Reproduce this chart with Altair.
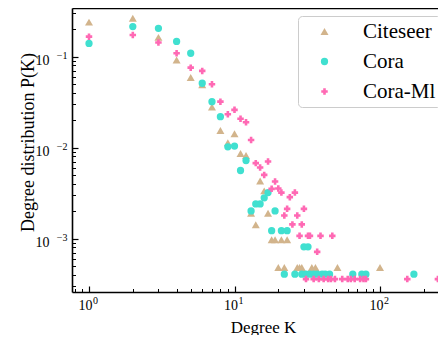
import altair as alt
import pandas as pd

# ---------------- data ----------------
series_names = ["Citeseer", "Cora", "Cora-Ml"]

citeseer_k = [1, 2, 3, 4, 5, 6, 7, 8, 9, 10, 11, 12, 13, 14, 15, 16, 17, 18, 19, 20,
              21, 22, 23, 27, 28, 29, 34, 36, 51, 100]
citeseer_p = [0.24, 0.264, 0.163, 0.092, 0.059, 0.049, 0.028, 0.0154, 0.0113, 0.0142,
              0.0086, 0.0082, 0.0019, 0.00142, 0.0043, 0.00334, 0.0019, 0.00097, 0.00097, 0.00048,
              0.00097, 0.00048, 0.00097, 0.00048, 0.00048, 0.00048, 0.00048, 0.00048, 0.00048, 0.00048]

cora_k = [1, 2, 3, 4, 5, 6, 7, 8, 9, 10, 11, 12, 13, 14, 15, 16, 17, 18, 19, 21,
          22, 23, 26, 29, 30, 31, 32, 33, 35, 37, 40, 42, 45, 65, 75, 80, 171]
cora_p = [0.14, 0.214, 0.205, 0.147, 0.109, 0.051, 0.032, 0.0219, 0.0102, 0.0104,
          0.0056, 0.0072, 0.00201, 0.0024, 0.0024, 0.0028, 0.0032, 0.00122, 0.00201, 0.00122,
          0.000406, 0.00122, 0.000406, 0.000406, 0.00081, 0.000406, 0.00081, 0.000406, 0.000406, 0.000406,
          0.000406, 0.000406, 0.000406, 0.000406, 0.000406, 0.000406, 0.000406]

coraml_k = [1, 2, 3, 4, 5, 6, 7, 8, 9, 10, 11, 12, 13, 14, 15, 16, 17, 18, 19, 20,
            21, 22, 23, 24, 25, 26, 27, 28, 29, 30, 31, 32, 33, 35, 37, 38, 39, 41, 44, 46,
            47, 49, 55, 60, 63, 67, 73, 77, 80, 154, 250]
coraml_p = [0.166, 0.173, 0.143, 0.109, 0.0757, 0.0697, 0.0497, 0.032, 0.0233, 0.026,
            0.0208, 0.019, 0.0121, 0.00675, 0.00603, 0.00501, 0.00702, 0.00352, 0.00423, 0.00355,
            0.0032, 0.00179, 0.00212, 0.00285, 0.00143, 0.0032, 0.00179, 0.00107, 0.00143, 0.00212,
            0.000358, 0.00107, 0.00107, 0.000358, 0.000714, 0.000358, 0.00107, 0.000358, 0.000358, 0.000358,
            0.00107, 0.000358, 0.000358, 0.000358, 0.000358, 0.000358, 0.000358, 0.000358, 0.000358, 0.000358,
            0.000358]

x_major = [1, 10, 100]
x_minor = [0.8, 0.9, 2, 3, 4, 5, 6, 7, 8, 9, 20, 30, 40, 50, 60, 70, 80, 90, 200]
y_major = [0.001, 0.01, 0.1]
y_minor = [0.0003, 0.0004, 0.0005, 0.0006, 0.0007, 0.0008, 0.0009,
           0.002, 0.003, 0.004, 0.005, 0.006, 0.007, 0.008, 0.009,
           0.02, 0.03, 0.04, 0.05, 0.06, 0.07, 0.08, 0.09, 0.2, 0.3]

colors = ["#D2B48C", "#40E0D0", "#FF69B4"]
shapes = ["triangle-up", "circle", "cross"]
sizes = [64, 42, 36]

rows = []
for name, ks, ps in zip(series_names, [citeseer_k, cora_k, coraml_k],
                        [citeseer_p, cora_p, coraml_p]):
    for k, p in zip(ks, ps):
        rows.append({"series": name, "K": k, "P": p})
df = pd.DataFrame(rows)

FONT = "Liberation Serif"
xscale = alt.Scale(type="log", domain=[0.764, 250.4], nice=False)
yscale = alt.Scale(type="log", domain=[2.582e-4, 0.3429], nice=False)

legend = alt.Legend(
    title=None, orient="none", legendX=226, legendY=8,
    padding=5, strokeColor="#cccccc", fillColor="white", cornerRadius=4,
    labelFont=FONT, labelFontSize=21, labelColor="black",
    symbolSize=60, symbolOffset=11, labelOffset=28, rowPadding=8,
    symbolStrokeWidth=0,
)

# main axes: the "10" part of the labels, the axis lines and the titles
x_main = alt.Axis(values=x_major, ticks=False, tickSize=0, grid=False,
                  labelExpr="'10'", labelOffset=-4,
                  labelFont=FONT, labelFontSize=14, labelColor="black", labelPadding=6,
                  domainColor="black", domainWidth=1.6, orient="bottom",
                  title="Degree K", titleFont=FONT, titleFontSize=17, titleFontWeight="normal",
                  titleColor="black", titleX=191, titleY=40, titleBaseline="alphabetic")
y_main = alt.Axis(values=y_major, ticks=False, tickSize=0, grid=False,
                  labelExpr="'10'", labelOffset=4,
                  labelFont=FONT, labelFontSize=14, labelColor="black", labelPadding=23,
                  domainColor="black", domainWidth=1.6, orient="left",
                  title="Degree distribution P(K)", titleFont=FONT, titleFontSize=18,
                  titleFontWeight="normal", titleColor="black", titleX=-35, titleY=134)

points = alt.Chart(df).mark_point(filled=True, opacity=1, strokeWidth=0).encode(
    x=alt.X("K:Q", scale=xscale, axis=x_main),
    y=alt.Y("P:Q", scale=yscale, axis=y_main),
    color=alt.Color("series:N", scale=alt.Scale(domain=series_names, range=colors), legend=legend),
    shape=alt.Shape("series:N", scale=alt.Scale(domain=series_names, range=shapes), legend=legend),
    size=alt.Size("series:N", scale=alt.Scale(domain=series_names, range=sizes), legend=None),
)

# exponent part of the labels
x_exp = alt.Axis(values=x_major, ticks=False, domain=False, grid=False, title=None,
                 labelExpr="format(log(datum.value) / LN10, 'd')", labelOffset=6,
                 labelFont=FONT, labelFontSize=10, labelColor="black", labelPadding=3,
                 orient="bottom")
y_exp = alt.Axis(values=y_major, ticks=False, domain=False, grid=False, title=None,
                 labelExpr="'\u2212' + format(-round(log(datum.value) / LN10), 'd')",
                 labelOffset=-1,
                 labelFont=FONT, labelFontSize=10, labelColor="black", labelPadding=5,
                 orient="left")
exponents = alt.Chart(df).mark_point(opacity=0).encode(
    x=alt.X("K:Q", scale=xscale, axis=x_exp),
    y=alt.Y("P:Q", scale=yscale, axis=y_exp),
)


def tick_layer(xvals, yvals, length, width):
    xa = alt.Axis(values=xvals, labels=False, domain=False, grid=False, title=None,
                  ticks=True, tickSize=length, tickWidth=width, tickColor="black",
                  offset=-length, orient="bottom")
    ya = alt.Axis(values=yvals, labels=False, domain=False, grid=False, title=None,
                  ticks=True, tickSize=length, tickWidth=width, tickColor="black",
                  offset=-length, orient="left")
    return alt.Chart(df).mark_point(opacity=0).encode(
        x=alt.X("K:Q", scale=xscale, axis=xa),
        y=alt.Y("P:Q", scale=yscale, axis=ya),
    )


major = tick_layer(x_major, y_major, 6, 1.2)
minor = tick_layer(x_minor, y_minor, 3.5, 1)

top_line = alt.Chart(df).mark_point(opacity=0).encode(
    x=alt.X("K:Q", scale=xscale,
            axis=alt.Axis(orient="top", labels=False, ticks=False, grid=False, title=None,
                          domainColor="black", domainWidth=1.6, values=x_major)),
    y=alt.Y("P:Q", scale=yscale, axis=None),
)

chart = alt.layer(major, minor, top_line, exponents, points).resolve_axis(
    x="independent", y="independent"
).properties(
    width=366, height=284,
    autosize=alt.AutoSizeParams(type="none"),
    padding={"left": 64, "top": 0, "right": 0, "bottom": 43},
).configure_view(stroke=None)

chart.save("out.html", embed_options={"renderer": "svg", "actions": False})
